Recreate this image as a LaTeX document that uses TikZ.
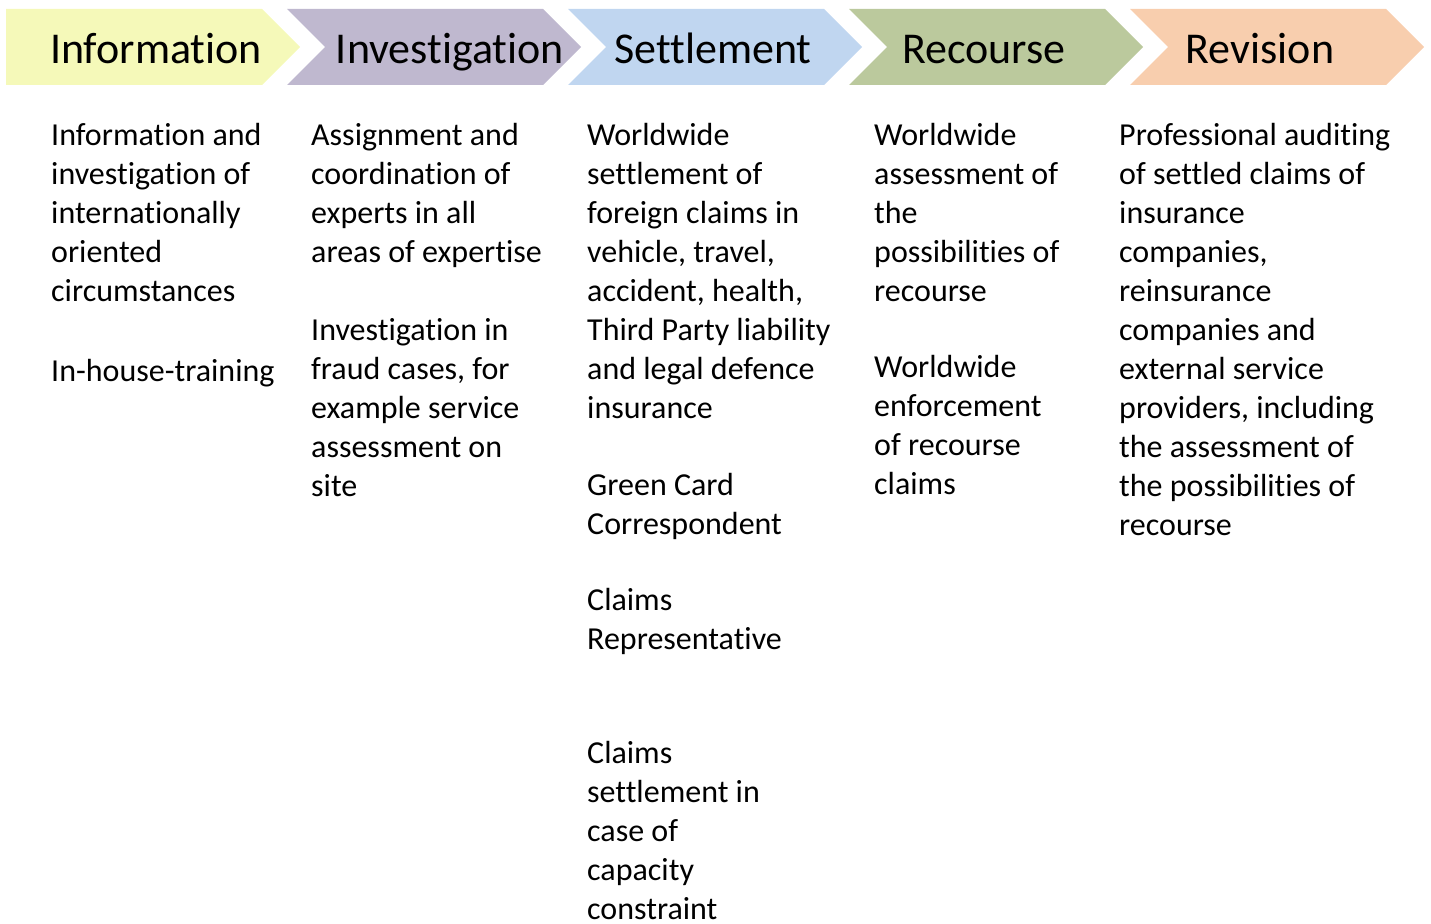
\documentclass[tikz,border=0pt]{standalone}
\usepackage{fontspec}
\setmainfont{Carlito}[Ligatures=NoCommon]
\usepackage{tikz}

\definecolor{infoYellow}{RGB}{245,249,185}
\definecolor{investPurple}{RGB}{191,184,207}
\definecolor{settleBlue}{RGB}{192,214,240}
\definecolor{recourseGreen}{RGB}{187,201,157}
\definecolor{revisionPeach}{RGB}{248,206,174}

\begin{document}
\begin{tikzpicture}[x=1pt,y=-1pt,
			head/.style={font=\fontsize{44}{50}\selectfont,inner sep=0pt,anchor=base},
			body/.style={font=\fontsize{32}{39}\selectfont,align=left,inner sep=0pt,anchor=north west,
				execute at begin node={\rule{0pt}{24pt}}}]

			\useasboundingbox (0,0) rectangle (1431,923);

			\fill[infoYellow] (6,9) -- (262,9) -- (300,47) -- (262,85) -- (6,85) -- cycle;
			\fill[investPurple] (287,9) -- (543,9) -- (581,47) -- (543,85) -- (287,85) -- (325,47) -- cycle;
			\fill[settleBlue] (568,9) -- (824,9) -- (862,47) -- (824,85) -- (568,85) -- (606,47) -- cycle;
			\fill[recourseGreen] (849,9) -- (1105,9) -- (1143,47) -- (1105,85) -- (849,85) -- (887,47) -- cycle;
			\fill[revisionPeach] (1130,9) -- (1386,9) -- (1424,47) -- (1386,85) -- (1130,85) -- (1168,47) -- cycle;

			\node [head] at (156,64) (infoHead) {Information};
			\node [head] at (450,64) (investHead) {Investigation};
			\node [head] at (713,64) (settleHead) {Settlement};
			\node [head] at (984,64) (recourseHead) {Recourse};
			\node [head] at (1260,64) (revisionHead) {Revision};

			\node [body] at (51,123) (infoTextA) {Information and\\investigation of\\internationally\\oriented\\circumstances};
			\node [body] at (51,357) (infoTextB) {In-house-training};

			\node [body] at (311,123) (investTextA) {Assignment and\\coordination of\\experts in all\\areas of expertise};
			\node [body] at (311,318) (investTextB) {Investigation in\\fraud cases, for\\example service\\assessment on\\site};

			\node [body] at (587,123) (settleTextA) {Worldwide\\settlement of\\foreign claims in\\vehicle, travel,\\accident, health,\\Third Party liability\\and legal defence\\insurance};
			\node [body] at (587,473) (settleTextB) {Green Card\\Correspondent};
			\node [body] at (587,588) (settleTextC) {Claims\\Representative};
			\node [body] at (587,741) (settleTextD) {Claims\\settlement in\\case of\\capacity\\constraint};

			\node [body] at (874,123) (recourseTextA) {Worldwide\\assessment of\\the\\possibilities of\\recourse};
			\node [body] at (874,355) (recourseTextB) {Worldwide\\enforcement\\of recourse\\claims};

			\node [body] at (1119,123) (revisionText) {Professional auditing\\of settled claims of\\insurance\\companies,\\reinsurance\\companies and\\external service\\providers, including\\the assessment of\\the possibilities of\\recourse};

		\end{tikzpicture}
\end{document}
